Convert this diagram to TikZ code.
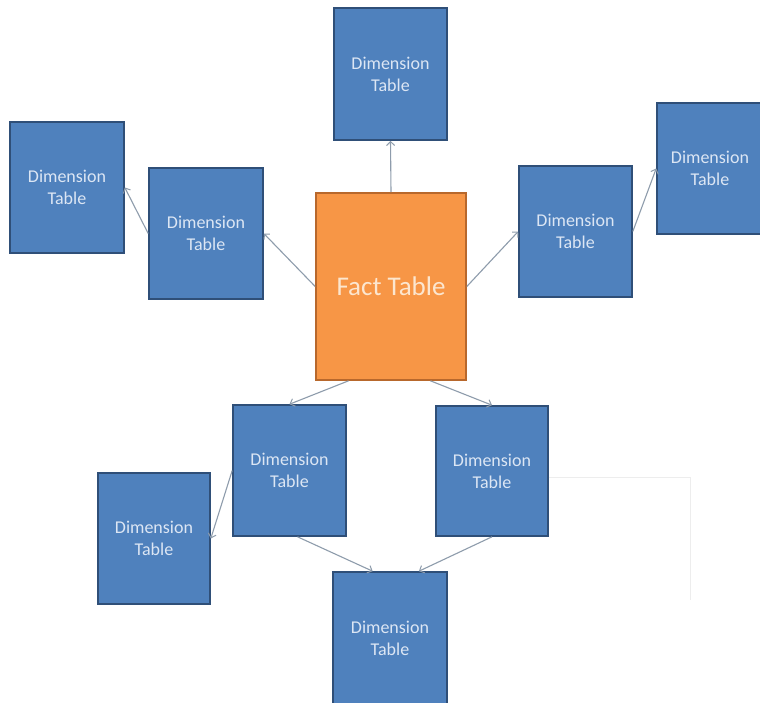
\documentclass[tikz,border=0pt]{standalone}
\usepackage{fontspec}
\setmainfont{Carlito}
\usetikzlibrary{arrows.meta,calc}
\definecolor{dimfill}{HTML}{4F81BD}
\definecolor{dimedge}{HTML}{2F4F78}
\definecolor{dimtext}{HTML}{DCE6F4}
\definecolor{factfill}{HTML}{F79646}
\definecolor{factedge}{HTML}{B8682C}
\definecolor{facttext}{HTML}{FCE6CF}
\definecolor{linkcol}{HTML}{8E9CAC}
\tikzset{
  dimbox/.style={draw=dimedge, line width=1.6pt, fill=dimfill, inner sep=0pt,
    text=dimtext, align=center,
    font=\fontsize{18}{22}\selectfont},
  factbox/.style={draw=factedge, line width=1.6pt, fill=factfill, inner sep=0pt,
    text=facttext, align=center, minimum width=150pt, minimum height=187pt,
    font=\fontsize{27}{32}\selectfont},
  link/.style={draw=linkcol, line width=1.1pt,
    -{Straight Barb[length=4pt,width=8pt,line width=1pt]}},
  ghost/.style={draw=black!7, line width=1pt}
}
\begin{document}
\begin{tikzpicture}[x=1pt,y=-1pt]
  \useasboundingbox (0,0) rectangle (760,702);
  \fill[white] (0,0) rectangle (760,702);

  % central fact table
  \node[factbox] (F) at (391,286.5) {Fact Table};

  % dimension tables
  \node[dimbox, minimum width=113pt, minimum height=132pt] (T)   at (390.5,74)   {Dimension\\Table};
  \node[dimbox, minimum width=114pt, minimum height=131pt] (LF)  at (67,187.5)   {Dimension\\Table};
  \node[dimbox, minimum width=114pt, minimum height=131pt] (LI)  at (206,233.5)  {Dimension\\Table};
  \node[dimbox, minimum width=113pt, minimum height=131pt] (RI)  at (575.5,231.5){Dimension\\Table};
  \node[dimbox, minimum width=106pt, minimum height=131pt] (RF)  at (710,168.5)  {Dimension\\Table};
  \node[dimbox, minimum width=113pt, minimum height=131pt] (BLI) at (289.5,470.5){Dimension\\Table};
  \node[dimbox, minimum width=112pt, minimum height=131pt] (BFL) at (154,538.5)  {Dimension\\Table};
  \node[dimbox, minimum width=112pt, minimum height=130pt] (BR)  at (492,471)    {Dimension\\Table};
  \node[dimbox, minimum width=114pt, minimum height=132pt] (BC)  at (390,638)    {Dimension\\Table};

  % connectors
  \draw[link] (F.north) -- (T.south);
  \draw[link] (F.west) -- (LI.east);
  \draw[link] (LI.west) -- (LF.east);
  \draw[link] (F.east) -- (RI.west);
  \draw[link] (RI.east) -- (RF.west);
  \draw[link] ($(F.south west)!0.22!(F.south east)$) -- (BLI.north);
  \draw[link] ($(F.south west)!0.76!(F.south east)$) -- (BR.north);
  \draw[link] (BLI.west) -- (BFL.east);
  \draw[link] ($(BLI.south west)!0.57!(BLI.south east)$) -- ($(BC.north west)!0.35!(BC.north east)$);
  \draw[link] (BR.south) -- ($(BC.north west)!0.75!(BC.north east)$);

  % faint leftover line to the right of the lower dimension table
  \coordinate (g1) at (690,477);
  \coordinate (g2) at (690,600);
  \draw[ghost] (BR.east |- g1) -- (g1) -- (g2);
\end{tikzpicture}
\end{document}
